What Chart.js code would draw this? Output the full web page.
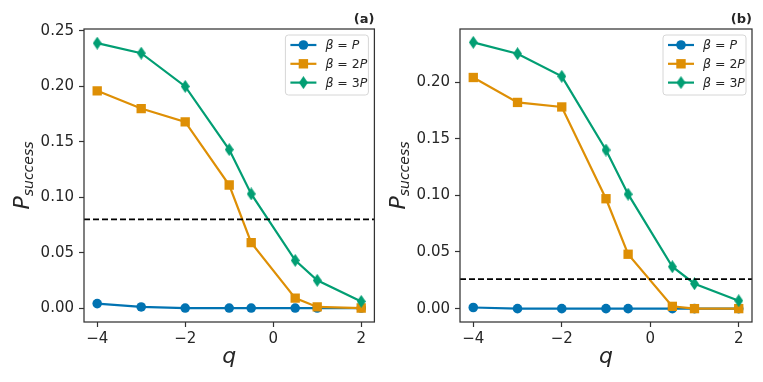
<!DOCTYPE html>
<html>
<head>
<meta charset="utf-8">
<script src="https://cdn.jsdelivr.net/npm/chart.js@4/dist/chart.umd.min.js"></script>
<style>
  body { margin: 0; background: #fff; }
  #wrap { position: relative; width: 763px; height: 382px; }
  .panel { position: absolute; top: 0; height: 382px; }
</style>
</head>
<body>
<div id="wrap">
  <div class="panel" style="left:0;width:381px"><canvas id="chartA"></canvas></div>
  <div class="panel" style="left:381px;width:382px"><canvas id="chartB"></canvas></div>
</div>
<script>
// q values shared by both panels
const qValues = [-4, -3, -2, -1, -0.5, 0.5, 1, 2];
const xTicks = [-4, -2, 0, 2];

// panel (a)
const aBetaP  = [0.004, 0.001, 0.000, 0.000, 0.000, 0.000, 0.000, 0.000];
const aBeta2P = [0.196, 0.180, 0.168, 0.111, 0.059, 0.009, 0.001, 0.000];
const aBeta3P = [0.239, 0.230, 0.200, 0.143, 0.103, 0.043, 0.025, 0.006];
const aThreshold = 0.080;
const aYTicks = [0, 0.05, 0.10, 0.15, 0.20, 0.25];

// panel (b)
const bBetaP  = [0.001, 0.000, 0.000, 0.000, 0.000, 0.000, 0.000, 0.000];
const bBeta2P = [0.204, 0.182, 0.178, 0.097, 0.048, 0.002, 0.000, 0.000];
const bBeta3P = [0.235, 0.225, 0.205, 0.140, 0.101, 0.037, 0.022, 0.007];
const bThreshold = 0.026;
const bYTicks = [0, 0.05, 0.10, 0.15, 0.20];

const seriesNames = ['P', '2P', '3P'];
const colors = ['#0173b2', '#de8f05', '#029e73'];
const FONT = 'DejaVu Sans';
const TEXT = '#262626';

// thin diamond marker, like matplotlib 'd'
function thinDiamond(color) {
  const c = document.createElement('canvas');
  c.width = 9; c.height = 13;
  const g = c.getContext('2d');
  g.fillStyle = color;
  g.beginPath();
  g.moveTo(4.5, 0); g.lineTo(9, 6.5); g.lineTo(4.5, 13); g.lineTo(0, 6.5);
  g.closePath(); g.fill();
  return c;
}
const diamond = thinDiamond(colors[2]);
const markerStyles = ['circle', 'rect', diamond];
const markerRadius = [4.8, 6.6, 6];

function pts(vals) {
  return qValues.map((q, i) => ({ x: q, y: vals[i] }));
}

function fmtMinus(v) {
  return String(v).replace('-', '\u2212');
}

function decorPlugin(tag) {
  return {
    id: 'decor' + tag,
    afterDraw(chart) {
      const { ctx, chartArea: a } = chart;
      ctx.save();
      // full frame
      ctx.strokeStyle = '#333';
      ctx.lineWidth = 1.25;
      ctx.strokeRect(a.left, a.top, a.right - a.left, a.bottom - a.top);

      // x label
      ctx.fillStyle = TEXT;
      ctx.font = `italic 22px "${FONT}"`;
      ctx.textAlign = 'center';
      ctx.textBaseline = 'alphabetic';
      ctx.fillText('q', (a.left + a.right) / 2, 363);

      // y label  P_success
      ctx.save();
      ctx.translate(a.left - 55, (a.top + a.bottom) / 2);
      ctx.rotate(-Math.PI / 2);
      ctx.font = `italic 22px "${FONT}"`;
      const pw = ctx.measureText('P').width;
      ctx.font = `italic 14px "${FONT}"`;
      const sw = ctx.measureText('success').width;
      const x0 = -(pw + sw) / 2;
      ctx.textAlign = 'left';
      ctx.font = `italic 22px "${FONT}"`;
      ctx.fillText('P', x0, 0);
      ctx.font = `italic 14px "${FONT}"`;
      ctx.fillText('success', x0 + pw, 4);
      ctx.restore();

      // panel tag
      ctx.font = `bold 13px "${FONT}"`;
      ctx.textAlign = 'right';
      ctx.fillText('(' + tag + ')', a.right, 23);

      // legend
      const lx = a.right - 89, ly = a.top + 6, lw = 83, lh = 60;
      ctx.beginPath();
      ctx.roundRect(lx, ly, lw, lh, 3);
      ctx.fillStyle = 'rgba(255,255,255,0.85)';
      ctx.fill();
      ctx.strokeStyle = '#d6d6d6';
      ctx.lineWidth = 1;
      ctx.stroke();
      seriesNames.forEach((name, i) => {
        const ry = ly + 10 + i * 18.8;
        ctx.strokeStyle = colors[i];
        ctx.lineWidth = 2.2;
        ctx.beginPath();
        ctx.moveTo(lx + 5, ry); ctx.lineTo(lx + 31, ry);
        ctx.stroke();
        ctx.fillStyle = colors[i];
        const mx = lx + 18;
        if (i === 0) {
          ctx.beginPath(); ctx.arc(mx, ry, 4.8, 0, Math.PI * 2); ctx.fill();
        } else if (i === 1) {
          ctx.fillRect(mx - 4.7, ry - 4.7, 9.4, 9.4);
        } else {
          ctx.drawImage(diamond, mx - 4.5, ry - 6.5);
        }
        ctx.fillStyle = TEXT;
        ctx.textAlign = 'left';
        ctx.textBaseline = 'middle';
        let tx = lx + 40;
        const parts = [['β', 'italic'], [' = ', 'normal'], [name.length > 1 ? name[0] : '', 'normal'], ['P', 'italic']];
        parts.forEach(([s, st]) => {
          if (!s) return;
          ctx.font = `${st} 12.5px "${FONT}"`;
          ctx.fillText(s, tx, ry + 1);
          tx += ctx.measureText(s).width;
        });
      });
      ctx.restore();
    }
  };
}

function makePanel(id, tag, p, p2, p3, threshold, yTicks, yMin, yMax, yWidth, padRight) {
  const xMin = -4.3, xMax = 2.3;
  const seriesVals = [p, p2, p3];
  const datasets = seriesVals.map((vals, i) => ({
    label: 'β = ' + seriesNames[i],
    data: pts(vals),
    borderColor: colors[i],
    backgroundColor: colors[i],
    borderWidth: 2.2,
    pointStyle: markerStyles[i],
    pointRadius: markerRadius[i],
    pointBorderWidth: 0,
    order: 3 - i
  }));
  datasets.push({
    label: 'threshold',
    data: [{ x: xMin, y: threshold }, { x: xMax, y: threshold }],
    borderColor: '#000',
    borderWidth: 1.8,
    borderDash: [6, 3],
    pointRadius: 0,
    order: 0
  });

  new Chart(document.getElementById(id), {
    type: 'line',
    data: { datasets },
    options: {
      responsive: true,
      maintainAspectRatio: false,
      animation: false,
      layout: { padding: { left: 0, right: padRight, top: 29, bottom: 0 } },
      plugins: { legend: { display: false }, tooltip: { enabled: false } },
      scales: {
        x: {
          type: 'linear',
          min: xMin, max: xMax,
          afterBuildTicks: s => { s.ticks = xTicks.map(v => ({ value: v })); },
          afterFit: s => { s.height = 60; },
          ticks: { color: TEXT, font: { family: FONT, size: 15 }, padding: 3, maxRotation: 0,
                   callback: v => fmtMinus(v) },
          grid: { drawOnChartArea: false, tickLength: 5, tickColor: '#333', tickWidth: 1.2 },
          border: { display: false }
        },
        y: {
          min: yMin, max: yMax,
          afterBuildTicks: s => { s.ticks = yTicks.map(v => ({ value: v })); },
          afterFit: s => { s.width = yWidth; },
          ticks: { color: TEXT, font: { family: FONT, size: 15 }, padding: 5,
                   callback: v => v.toFixed(2) },
          grid: { drawOnChartArea: false, tickLength: 5, tickColor: '#333', tickWidth: 1.2 },
          border: { display: false }
        }
      }
    },
    plugins: [decorPlugin(tag)]
  });
}

makePanel('chartA', 'a', aBetaP, aBeta2P, aBeta3P, aThreshold, aYTicks, -0.0126, 0.2518, 84, 5);
makePanel('chartB', 'b', bBetaP, bBeta2P, bBeta3P, bThreshold, bYTicks, -0.0118, 0.2468, 79, 11);
</script>
</body>
</html>
